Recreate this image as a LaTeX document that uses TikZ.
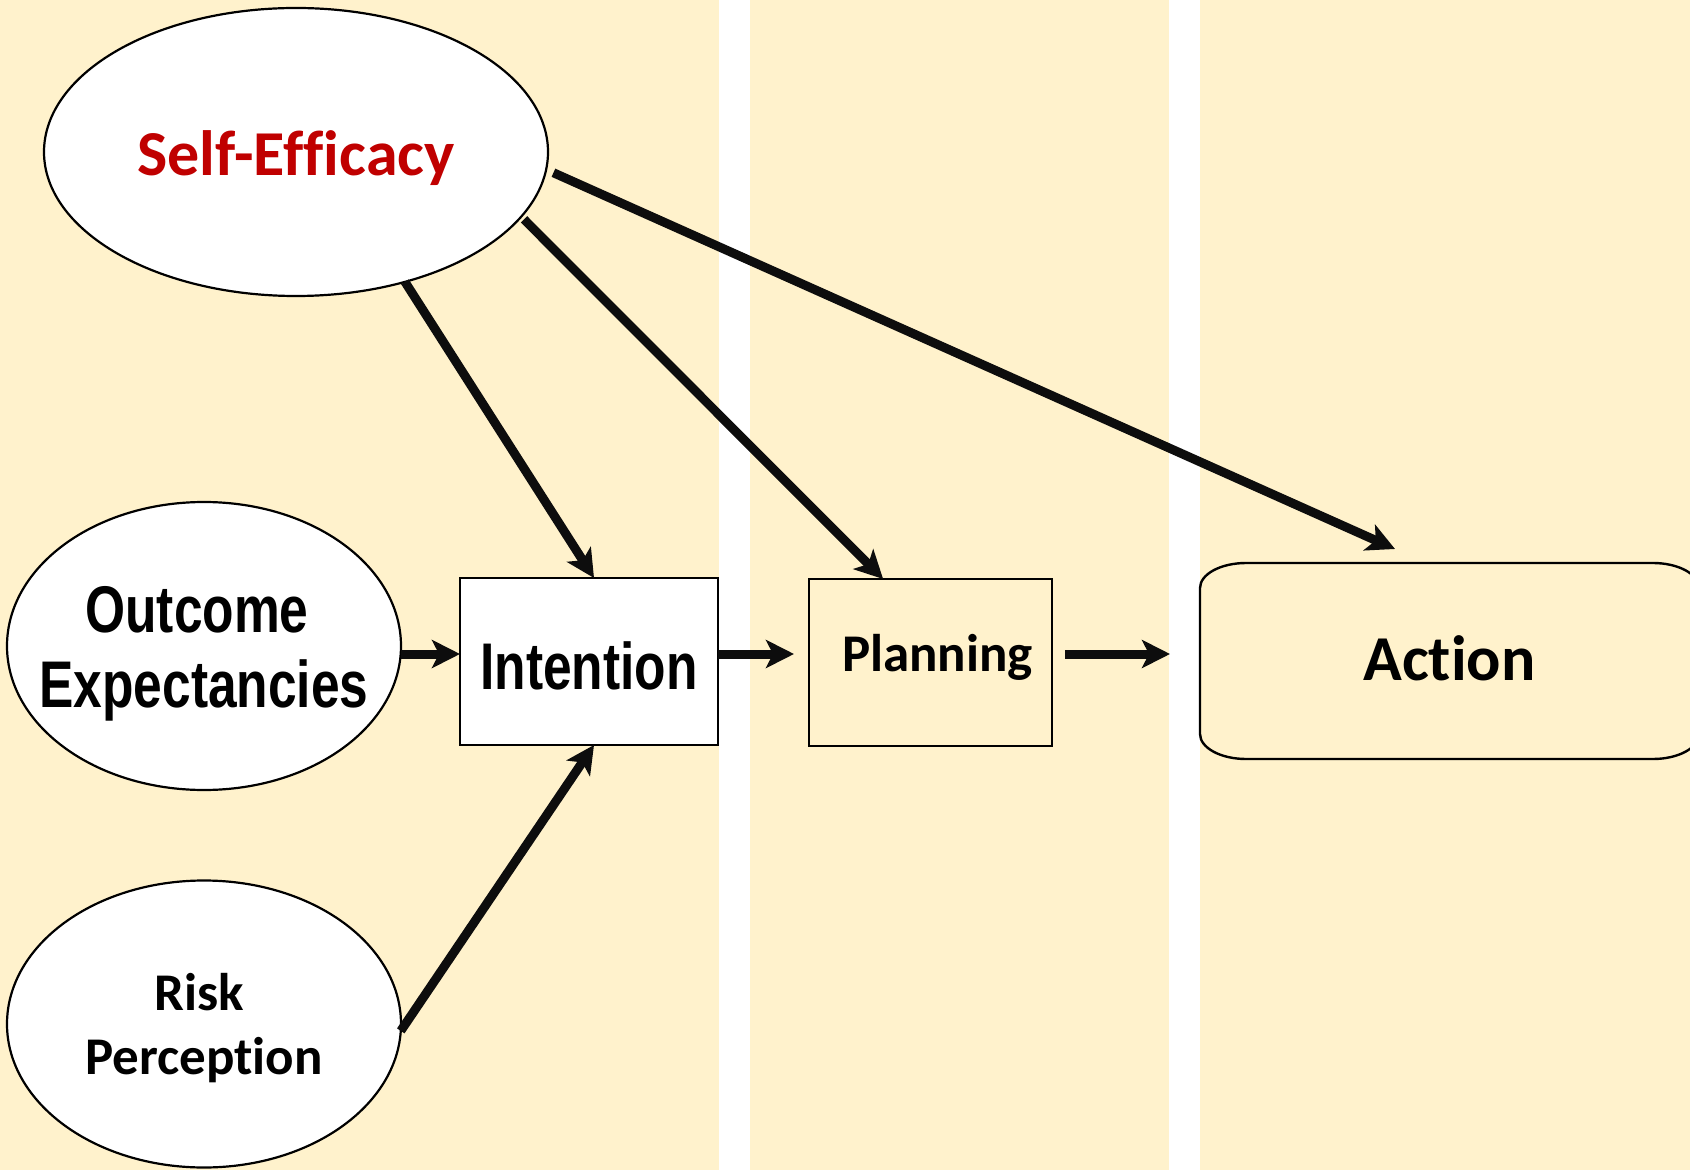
\documentclass[tikz,border=0pt]{standalone}
\usepackage{fontspec}
\usetikzlibrary{arrows.meta,shapes.geometric,calc}
\newfontfamily\calibrifont{Carlito}[Ligatures={NoCommon}]
\newfontfamily\narrowfont{Liberation Sans}[FakeStretch=0.78]
\definecolor{panel}{HTML}{FFF2CC}
\definecolor{darkred}{HTML}{C00000}
\definecolor{ink}{HTML}{0D0D0D}

\begin{document}
\begin{tikzpicture}[x=0.5pt,y=-0.5pt,
  every node/.style={inner sep=0pt, outer sep=0pt},
  construct/.style={ellipse, draw=black, line width=1.1pt, fill=white},
  stage/.style={rectangle, draw=black, line width=1.2pt},
  bigcal/.style={font=\calibrifont\bfseries\fontsize{32}{38}\selectfont},
  midcal/.style={font=\calibrifont\bfseries\fontsize{26.5}{32}\selectfont, align=center},
  narrow/.style={font=\narrowfont\bfseries\fontsize{33}{37.5}\selectfont, align=center},
  link/.style={draw=ink, line width=4.5pt,
    -{Stealth[length=14pt,width=14pt,inset=3.5pt]}},
]
% page and the three stage columns
\clip (0,0) rectangle (1690,1170);
\fill[white] (0,0) rectangle (1690,1170);
\fill[panel] (0,0) rectangle (719,1170);
\fill[panel] (750,0) rectangle (1169,1170);
\fill[panel] (1200,0) rectangle (1690,1170);

% motivational constructs
\node[construct, minimum width=252pt, minimum height=144pt,
  label={[name=se-text, bigcal, text=darkred, yshift=-3pt]center:Self-Efficacy}]
  (se) at (296,152) {};
\node[construct, minimum width=197pt, minimum height=144pt,
  label={[name=oe-text, narrow, yshift=-3.75pt]center:Outcome\hspace*{7pt}\\Expectancies}]
  (oe) at (204,646) {};
\node[construct, minimum width=197pt, minimum height=143.5pt,
  label={[name=rp-text, midcal, yshift=-2.25pt]center:Risk\hspace*{5pt}\\Perception}]
  (rp) at (204,1024) {};

% stages
\node[stage, fill=white, minimum width=129pt, minimum height=83.5pt,
  label={[name=intent-text, narrow, yshift=-2pt]center:Intention}]
  (intent) at (589,661.5) {};
\node[stage, minimum width=121.5pt, minimum height=83.5pt,
  label={[name=plan-text, midcal, xshift=3.5pt, yshift=2.75pt]center:Planning}]
  (plan) at (930.5,662.5) {};
\node[minimum width=249.5pt, minimum height=98pt,
  label={[name=act-text, bigcal, yshift=1.25pt]center:Action}]
  (act) at (1449.5,661) {};
% action box outline with elliptical corners
\draw[line width=1.2pt] (1200,588)
  .. controls (1200,574.2) and (1220.6,563) .. (1246,563) -- (1653,563)
  .. controls (1678.4,563) and (1699,574.2) .. (1699,588) -- (1699,734)
  .. controls (1699,747.8) and (1678.4,759) .. (1653,759) -- (1246,759)
  .. controls (1220.6,759) and (1200,747.8) .. (1200,734) -- cycle;

% paths between constructs and stages
\coordinate (row) at (0,654);
\draw[link] (se.-50) -- ([xshift=2.5pt]intent.north);
\draw[link, shorten <=2pt] (se.-16) -- ($(plan.north west)!0.305!(plan.north east)$);
\draw[link, shorten <=4pt] (se.-4) -- ($(act.north west)+(195,-14)$);
\draw[link] (oe.east |- row) -- (intent.west |- row);
\draw[link, shorten >=7.5pt] (intent.east |- row) -- (plan.west |- row);
\draw[link, shorten <=6.5pt, shorten >=15pt] (plan.east |- row) -- (act.west |- row);
\draw[link] (rp.-2.6) -- ([xshift=2.5pt]intent.south);
\end{tikzpicture}
\end{document}
